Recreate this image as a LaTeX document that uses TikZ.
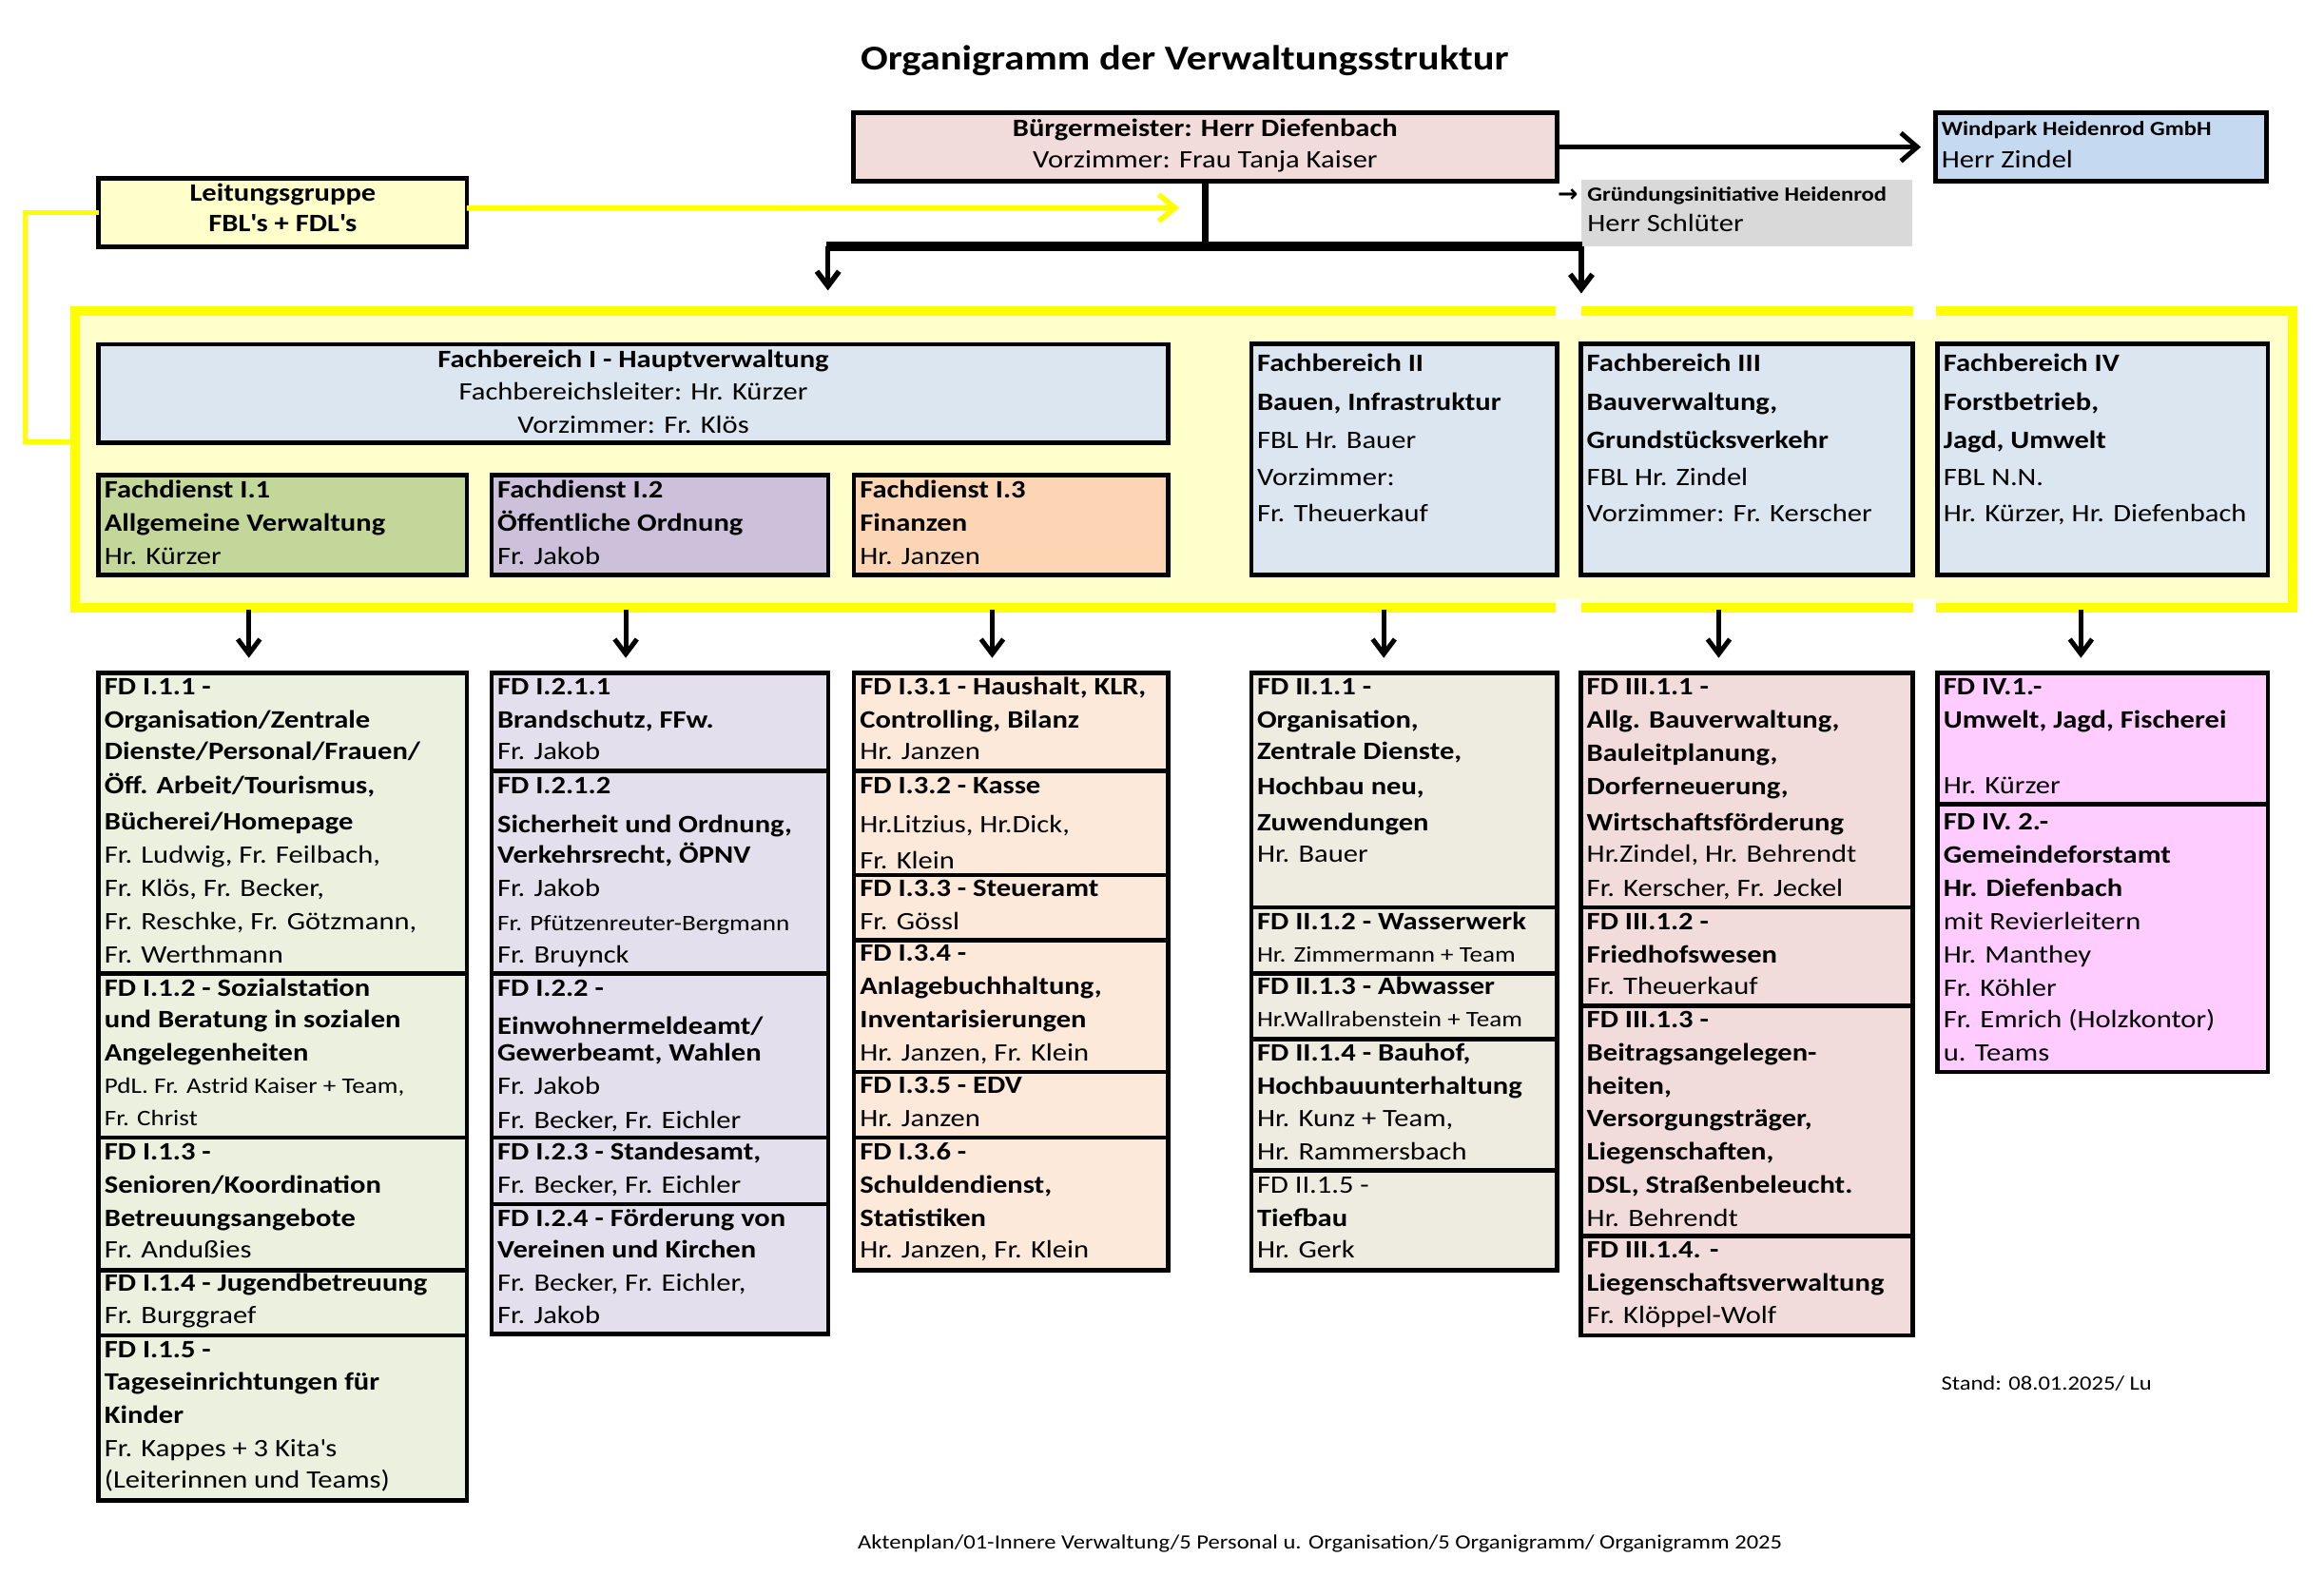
\documentclass[tikz,border=0pt]{standalone}
\usepackage{fontspec}
\setmainfont{Carlito}[FakeStretch=1.16]
\newfontfamily\dvfont{DejaVu Sans}
\usetikzlibrary{arrows.meta,calc}
\definecolor{bmpink}{HTML}{F2DCDB}
\definecolor{wpblue}{HTML}{C5D9F1}
\definecolor{grgray}{HTML}{D9D9D9}
\definecolor{lyellow}{HTML}{FFFFCC}
\definecolor{yel}{HTML}{FFFF00}
\definecolor{fbblue}{HTML}{DCE6F1}
\definecolor{fdgreen}{HTML}{C4D79B}
\definecolor{fdpurple}{HTML}{CCC0DA}
\definecolor{fdorange}{HTML}{FCD5B4}
\definecolor{colA}{HTML}{EBF1DE}
\definecolor{colB}{HTML}{E4DFEC}
\definecolor{colC}{HTML}{FDE9D9}
\definecolor{colD}{HTML}{EEECE1}
\definecolor{colE}{HTML}{F2DCDB}
\definecolor{colF}{HTML}{FFCCFF}
\newcounter{lnc}
\newcommand\fsN{\fontsize{8.45}{10}\selectfont}
\newcommand\fsS{\fontsize{7.5}{9}\selectfont}
\newcommand\fsX{\fontsize{6.8}{8}\selectfont}
\newcommand\fsT{\fontsize{11.75}{14}\selectfont}
\tikzset{
 obox/.style={draw=black, line width=1.5pt, rectangle, inner sep=0pt, outer sep=0pt},
 lbl/.style={inner sep=0pt, outer sep=0pt, anchor=base west},
 lblc/.style={inner sep=0pt, outer sep=0pt, anchor=base},
 conn/.style={draw=black, line width=1.6pt},
 downarrow/.style={draw=black, line width=1.6pt, -{Straight Barb[length=5pt,width=7.5pt]}},
 yconn/.style={draw=yel, line width=1.8pt},
}
\newcommand\mkbox[6]{%
 \pgfmathsetmacro\bw{(#4-#2)*0.5}%
 \pgfmathsetmacro\bh{(#5-#3)*0.5}%
 \node[obox, fill=#6, minimum width=\bw pt, minimum height=\bh pt] (#1) at ({(#2+#4)/2},{(#3+#5)/2}) {};}
\newcommand\tB[3]{\stepcounter{lnc}\node[lbl,font=\fsN\bfseries] (t\arabic{lnc}) at (#1,#2+5.3) {#3};}
\newcommand\tN[3]{\stepcounter{lnc}\node[lbl,font=\fsN] (t\arabic{lnc}) at (#1,#2+5.3) {#3};}
\newcommand\tS[3]{\stepcounter{lnc}\node[lbl,font=\fsS] (t\arabic{lnc}) at (#1,#2+4.7) {#3};}
\newcommand\cB[3]{\stepcounter{lnc}\node[lblc,font=\fsN\bfseries] (t\arabic{lnc}) at (#1,#2+5.3) {#3};}
\newcommand\cN[3]{\stepcounter{lnc}\node[lblc,font=\fsN] (t\arabic{lnc}) at (#1,#2+5.3) {#3};}
\begin{document}
\begin{tikzpicture}[x=0.5pt,y=-0.5pt]
\useasboundingbox (0,0) rectangle (1568,1063.7);
% title
\node[lblc, font=\fsT\bfseries] (title) at (799.3,47) {Organigramm der Verwaltungsstruktur};
% yellow band
\node[draw=yel, line width=3.2pt, fill=lyellow, inner sep=0pt, outer sep=0pt, minimum width=748.3pt, minimum height=99.95pt] (band) at (798.7,309.75) {};
\fill[white] (1049.6,204) rectangle (1066.6,215.5);
\fill[white] (1290.7,204) rectangle (1306.3,215.5);
\fill[white] (1049.6,404) rectangle (1066.6,415.5);
\fill[white] (1290.7,404) rectangle (1306.3,415.5);
% top boxes
\mkbox{bm}{575.7}{76}{1050.5}{122.4}{bmpink}
\mkbox{wp}{1306}{76}{1529}{122.4}{wpblue}
\node[fill=grgray, inner sep=0pt, outer sep=0pt, minimum width=111.5pt, minimum height=22.5pt] (gr) at (1178.5,143.5) {};
\mkbox{lg}{66.5}{120.5}{315}{166.3}{lyellow}
% connectors at top
\draw[conn, -{Straight Barb[length=5.5pt,width=9.5pt]}, shorten >=5pt] (bm.east) -- (wp.west);
\coordinate (ytip) at (795.6,140.2);
\draw[yconn, -{Straight Barb[length=5.5pt,width=9pt]}] ($(lg.east)+(0,-3)$) -- (ytip);
\draw[yconn] (lg.west) -- ++(-49.5,0) |- (band.west |- 0,298);
\coordinate (barL) at (558.6,166);
\coordinate (barR) at (1066.9,166);
\coordinate (tipL) at (558.6,196);
\coordinate (tipR) at (1066.9,198);
\draw[draw=black, line width=2.2pt] (bm.south) -- (bm.south |- barL);
\draw[draw=black, line width=3.2pt] ($(barL)+(-0.8,0)$) -- ($(barR)+(0.8,0)$);
\draw[downarrow, line width=1.8pt] (barL) -- (tipL);
\draw[downarrow, line width=1.8pt] (barR) -- (tipR);
% top texts
\cB{813.1}{86.7}{Bürgermeister: Herr Diefenbach}
\cN{813.1}{108.1}{Vorzimmer: Frau Tanja Kaiser}
\node[lbl, font=\fsX\bfseries] (wpt1) at (1310,91.6) {Windpark Heidenrod GmbH};
\tN{1310}{108.1}{Herr Zindel}
\node[lbl, font=\fontsize{8.2}{9}\dvfont\bfseries] (grarr) at (1051,136.4) {→};
\node[lbl, font=\fsX\bfseries] (grt1) at (1071,135.6) {Gründungsinitiative Heidenrod};
\tN{1071}{150.9}{Herr Schlüter}
\cB{190.8}{130.6}{Leitungsgruppe}
\cB{190.8}{150.9}{FBL\textquotesingle s + FDL\textquotesingle s}
% Fachbereiche
\mkbox{fb1}{66.5}{232.2}{788}{298.6}{fbblue}
\mkbox{fd1}{66.5}{320.6}{315}{387.8}{fdgreen}
\mkbox{fd2}{331.6}{320.6}{558.8}{387.8}{fdpurple}
\mkbox{fd3}{576.2}{320.6}{788}{387.8}{fdorange}
\mkbox{fb2}{844.2}{231.8}{1050.4}{388}{fbblue}
\mkbox{fb3}{1066.6}{231.8}{1290.7}{388}{fbblue}
\mkbox{fb4}{1307.3}{231.8}{1530.2}{388}{fbblue}
\cB{427.3}{242.9}{Fachbereich I - Hauptverwaltung}
\cN{427.3}{264.3}{Fachbereichsleiter: Hr. Kürzer}
\cN{427.3}{286.8}{Vorzimmer: Fr. Klös}
\tB{70.5}{330.7}{Fachdienst I.1}
\tB{70.5}{353.1}{Allgemeine Verwaltung}
\tN{70.5}{375.6}{Hr. Kürzer}
\tB{335.6}{330.7}{Fachdienst I.2}
\tB{335.6}{353.1}{Öffentliche Ordnung}
\tN{335.6}{375.6}{Fr. Jakob}
\tB{580.2}{330.7}{Fachdienst I.3}
\tB{580.2}{353.1}{Finanzen}
\tN{580.2}{375.6}{Hr. Janzen}
\tB{848.2}{245.1}{Fachbereich II}
\tB{848.2}{271.8}{Bauen, Infrastruktur}
\tN{848.2}{297.5}{FBL Hr. Bauer}
\tN{848.2}{322.1}{Vorzimmer:}
\tN{848.2}{346.7}{Fr. Theuerkauf}
\tB{1070.6}{245.1}{Fachbereich III}
\tB{1070.6}{271.8}{Bauverwaltung,}
\tB{1070.6}{297.5}{Grundstücksverkehr}
\tN{1070.6}{322.1}{FBL Hr. Zindel}
\tN{1070.6}{346.7}{Vorzimmer: Fr. Kerscher}
\tB{1311.3}{245.1}{Fachbereich IV}
\tB{1311.3}{271.8}{Forstbetrieb,}
\tB{1311.3}{297.5}{Jagd, Umwelt}
\tN{1311.3}{322.1}{FBL N.N.}
\tN{1311.3}{346.7}{Hr. Kürzer, Hr. Diefenbach}
% column 1
\mkbox{a1}{66.5}{453.8}{315}{656.7}{colA}
\mkbox{a2}{66.5}{656.7}{315}{767.3}{colA}
\mkbox{a3}{66.5}{767.3}{315}{856.6}{colA}
\mkbox{a4}{66.5}{856.6}{315}{900.7}{colA}
\mkbox{a5}{66.5}{900.7}{315}{1012}{colA}
\tB{70.5}{463.4}{FD I.1.1 -}
\tB{70.5}{485.9}{Organisation/Zentrale}
\tB{70.5}{507.2}{Dienste/Personal/Frauen/}
\tB{70.5}{529.8}{Öff. Arbeit/Tourismus,}
\tB{70.5}{554.3}{Bücherei/Homepage}
\tN{70.5}{576.8}{Fr. Ludwig, Fr. Feilbach,}
\tN{70.5}{599.3}{Fr. Klös, Fr. Becker,}
\tN{70.5}{621.7}{Fr. Reschke, Fr. Götzmann,}
\tN{70.5}{644.2}{Fr. Werthmann}
\tB{70.5}{666.7}{FD I.1.2 - Sozialstation}
\tB{70.5}{688.1}{und Beratung in sozialen}
\tB{70.5}{710.6}{Angelegenheiten}
\tS{70.5}{733.1}{PdL. Fr. Astrid Kaiser + Team,}
\tS{70.5}{754.5}{Fr. Christ}
\tB{70.5}{777}{FD I.1.3 -}
\tB{70.5}{799.5}{Senioren/Koordination}
\tB{70.5}{822}{Betreuungsangebote}
\tN{70.5}{843.3}{Fr. Andußies}
\tB{70.5}{865.8}{FD I.1.4 - Jugendbetreuung}
\tN{70.5}{887.2}{Fr. Burggraef}
\tB{70.5}{910.7}{FD I.1.5 -}
\tB{70.5}{932.1}{Tageseinrichtungen für}
\tB{70.5}{954.6}{Kinder}
\tN{70.5}{977.1}{Fr. Kappes + 3 Kita\textquotesingle s}
\tN{70.5}{998.5}{(Leiterinnen und Teams)}
% column 2
\mkbox{b1}{331.6}{453.8}{558.8}{520.1}{colB}
\mkbox{b2}{331.6}{520.1}{558.8}{656.7}{colB}
\mkbox{b3}{331.6}{656.7}{558.8}{767.3}{colB}
\mkbox{b4}{331.6}{767.3}{558.8}{812.3}{colB}
\mkbox{b5}{331.6}{812.3}{558.8}{900}{colB}
\tB{335.6}{463.4}{FD I.2.1.1}
\tB{335.6}{485.9}{Brandschutz, FFw.}
\tN{335.6}{507.2}{Fr. Jakob}
\tB{335.6}{529.8}{FD I.2.1.2}
\tB{335.6}{556.5}{Sicherheit und Ordnung,}
\tB{335.6}{576.8}{Verkehrsrecht, ÖPNV}
\tN{335.6}{599.3}{Fr. Jakob}
\tS{335.6}{622.9}{Fr. Pfützenreuter-Bergmann}
\tN{335.6}{644.2}{Fr. Bruynck}
\tB{335.6}{666.7}{FD I.2.2 -}
\tB{335.6}{692.4}{Einwohnermeldeamt/}
\tB{335.6}{710.6}{Gewerbeamt, Wahlen}
\tN{335.6}{733.1}{Fr. Jakob}
\tN{335.6}{755.6}{Fr. Becker, Fr. Eichler}
\tB{335.6}{777}{FD I.2.3 - Standesamt,}
\tN{335.6}{799.5}{Fr. Becker, Fr. Eichler}
\tB{335.6}{822}{FD I.2.4 - Förderung von}
\tB{335.6}{843.3}{Vereinen und Kirchen}
\tN{335.6}{865.8}{Fr. Becker, Fr. Eichler,}
\tN{335.6}{887.2}{Fr. Jakob}
% column 3
\mkbox{c1}{576.2}{453.8}{788}{520.1}{colC}
\mkbox{c2}{576.2}{520.1}{788}{590.3}{colC}
\mkbox{c3}{576.2}{590.3}{788}{634.2}{colC}
\mkbox{c4}{576.2}{634.2}{788}{723}{colC}
\mkbox{c5}{576.2}{723}{788}{767.3}{colC}
\mkbox{c6}{576.2}{767.3}{788}{856.6}{colC}
\tB{580.2}{463.4}{FD I.3.1 - Haushalt, KLR,}
\tB{580.2}{485.9}{Controlling, Bilanz}
\tN{580.2}{507.2}{Hr. Janzen}
\tB{580.2}{529.8}{FD I.3.2 - Kasse}
\tN{580.2}{556.5}{Hr.Litzius, Hr.Dick,}
\tN{580.2}{581}{Fr. Klein}
\tB{580.2}{599.3}{FD I.3.3 - Steueramt}
\tN{580.2}{621.7}{Fr. Gössl}
\tB{580.2}{643.2}{FD I.3.4 -}
\tB{580.2}{665.6}{Anlagebuchhaltung,}
\tB{580.2}{688.1}{Inventarisierungen}
\tN{580.2}{710.6}{Hr. Janzen, Fr. Klein}
\tB{580.2}{732}{FD I.3.5 - EDV}
\tN{580.2}{754.5}{Hr. Janzen}
\tB{580.2}{777}{FD I.3.6 -}
\tB{580.2}{799.5}{Schuldendienst,}
\tB{580.2}{822}{Statistiken}
\tN{580.2}{843.3}{Hr. Janzen, Fr. Klein}
% column 4
\mkbox{d1}{844.2}{453.8}{1050.4}{612.1}{colD}
\mkbox{d2}{844.2}{612.1}{1050.4}{656.7}{colD}
\mkbox{d3}{844.2}{656.7}{1050.4}{701}{colD}
\mkbox{d4}{844.2}{701}{1050.4}{789.4}{colD}
\mkbox{d5}{844.2}{789.4}{1050.4}{856.6}{colD}
\tB{848.2}{463.4}{FD II.1.1 -}
\tB{848.2}{485.9}{Organisation,}
\tB{848.2}{507.2}{Zentrale Dienste,}
\tB{848.2}{530.8}{Hochbau neu,}
\tB{848.2}{555.2}{Zuwendungen}
\tN{848.2}{576.5}{Hr. Bauer}
\tB{848.2}{621.7}{FD II.1.2 - Wasserwerk}
\tS{848.2}{644.2}{Hr. Zimmermann + Team}
\tB{848.2}{665.6}{FD II.1.3 - Abwasser}
\tS{848.2}{688.1}{Hr.Wallrabenstein + Team}
\tB{848.2}{710.6}{FD II.1.4 - Bauhof,}
\tB{848.2}{733}{Hochbauunterhaltung}
\tN{848.2}{754.5}{Hr. Kunz + Team,}
\tN{848.2}{777}{Hr. Rammersbach}
\tN{848.2}{799.5}{FD II.1.5 -}
\tB{848.2}{822}{Tiefbau}
\tN{848.2}{843.3}{Hr. Gerk}
% column 5
\mkbox{e1}{1066.6}{453.8}{1290.7}{612.1}{colE}
\mkbox{e2}{1066.6}{612.1}{1290.7}{678.5}{colE}
\mkbox{e3}{1066.6}{678.5}{1290.7}{833.7}{colE}
\mkbox{e4}{1066.6}{833.7}{1290.7}{900.7}{colE}
\tB{1070.6}{463.4}{FD III.1.1 -}
\tB{1070.6}{485.9}{Allg. Bauverwaltung,}
\tB{1070.6}{508.3}{Bauleitplanung,}
\tB{1070.6}{530.8}{Dorferneuerung,}
\tB{1070.6}{555.2}{Wirtschaftsförderung}
\tN{1070.6}{576.5}{Hr.Zindel, Hr. Behrendt}
\tN{1070.6}{599.3}{Fr. Kerscher, Fr. Jeckel}
\tB{1070.6}{621.7}{FD III.1.2 -}
\tB{1070.6}{644.2}{Friedhofswesen}
\tN{1070.6}{665.6}{Fr. Theuerkauf}
\tB{1070.6}{688.1}{FD III.1.3 -}
\tB{1070.6}{710.6}{Beitragsangelegen-}
\tB{1070.6}{733}{heiten,}
\tB{1070.6}{754.5}{Versorgungsträger,}
\tB{1070.6}{777}{Liegenschaften,}
\tB{1070.6}{799.5}{DSL, Straßenbeleucht.}
\tN{1070.6}{822}{Hr. Behrendt}
\tB{1070.6}{843.3}{FD III.1.4. -}
\tB{1070.6}{865.8}{Liegenschaftsverwaltung}
\tN{1070.6}{887.2}{Fr. Klöppel-Wolf}
% column 6
\mkbox{f1}{1307.3}{453.8}{1530.2}{542.6}{colF}
\mkbox{f2}{1307.3}{542.6}{1530.2}{723}{colF}
\tB{1311.3}{463.4}{FD IV.1.-}
\tB{1311.3}{485.9}{Umwelt, Jagd, Fischerei}
\tN{1311.3}{529.8}{Hr. Kürzer}
\tB{1311.3}{554.3}{FD IV. 2.-}
\tB{1311.3}{576.8}{Gemeindeforstamt}
\tB{1311.3}{599.3}{Hr. Diefenbach}
\tN{1311.3}{621.7}{mit Revierleitern}
\tN{1311.3}{644.2}{Hr. Manthey}
\tN{1311.3}{666.7}{Fr. Köhler}
\tN{1311.3}{688.1}{Fr. Emrich (Holzkontor)}
\tN{1311.3}{710.6}{u. Teams}
% arrows from band to columns
\coordinate (s1) at (167.9,411);
\coordinate (s2) at (422.2,411);
\coordinate (s3) at (669.4,411);
\coordinate (s4) at (933.6,411);
\coordinate (s5) at (1159.6,411);
\coordinate (s6) at (1404,411);
\draw[downarrow, shorten >=5pt] (s1) -- (s1 |- a1.north);
\draw[downarrow, shorten >=5pt] (s2) -- (s2 |- b1.north);
\draw[downarrow, shorten >=5pt] (s3) -- (s3 |- c1.north);
\draw[downarrow, shorten >=5pt] (s4) -- (s4 |- d1.north);
\draw[downarrow, shorten >=5pt] (s5) -- (s5 |- e1.north);
\draw[downarrow, shorten >=5pt] (s6) -- (s6 |- f1.north);
% footer
\node[lbl, font=\fsX] (stand) at (1309.8,937.5) {Stand: 08.01.2025/ Lu};
\node[lblc, font=\fsX] (akten) at (890.6,1044.8) {Aktenplan/01-Innere Verwaltung/5 Personal u. Organisation/5 Organigramm/ Organigramm 2025};
\end{tikzpicture}
\end{document}
